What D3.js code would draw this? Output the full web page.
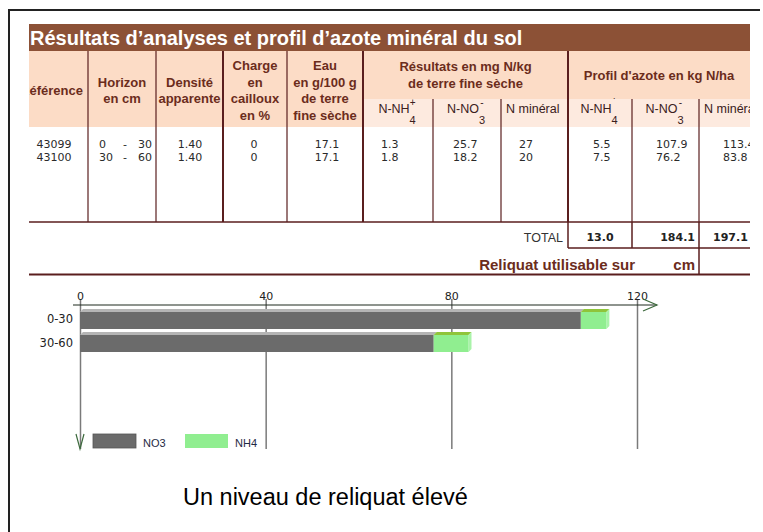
<!DOCTYPE html>
<html>
<head>
<meta charset="utf-8">
<script src="https://cdn.jsdelivr.net/npm/d3@7"></script>
<style>
  body { margin: 0; background: #fff; }
  svg { display: block; }
</style>
</head>
<body>
<div id="chart"></div>
<script>
const references = ["43099", "43100"];
const horizonStart = ["0", "30"];
const horizonEnd = ["30", "60"];
const densite = ["1.40", "1.40"];
const charge = ["0", "0"];
const eau = ["17.1", "17.1"];
const nh4Mg = ["1.3", "1.8"];
const no3Mg = ["25.7", "18.2"];
const nMinMg = ["27", "20"];
const nh4Kg = [5.5, 7.5];
const no3Kg = [107.9, 76.2];
const nMinKg = [113.4, 83.8];
const totals = ["13.0", "184.1", "197.1"];

const horizons = ["0-30", "30-60"];
const xTicks = [0, 40, 80, 120];
const legendLabels = ["NO3", "NH4"];

const width = 763, height = 532;
const brown = "#8c5136", pink = "#fcdcc6", lightPink = "#fdeadf";
const ink = "#5a1e1e", headText = "#6b2c1c";
const sans = "'Liberation Sans', Arial, sans-serif";
const mono = "'DejaVu Sans', Verdana, sans-serif";

const svg = d3.select("#chart").append("svg")
    .attr("width", width)
    .attr("height", height);

// cadre
svg.append("path")
    .attr("d", "M9,532 V10 H760")
    .attr("fill", "none")
    .attr("stroke", "#222")
    .attr("stroke-width", 2);

// --- 1. tableau ---
svg.append("clipPath").attr("id", "tab")
    .append("rect").attr("x", 29).attr("y", 0).attr("width", 721).attr("height", 300);
const tab = svg.append("g").attr("clip-path", "url(#tab)");

// bandeau titre
tab.append("rect").attr("x", 29).attr("y", 24).attr("width", 721).attr("height", 27).attr("fill", brown);
tab.append("text")
    .attr("x", 30).attr("y", 45)
    .attr("fill", "#fff")
    .style("font", `bold 20px ${sans}`)
    .text("Résultats d’analyses et profil d’azote minéral du sol");

// en-tête
const edges = [15, 88, 156, 223, 287, 363, 433, 501, 568, 632, 699, 780];
tab.append("rect").attr("x", 29).attr("y", 51).attr("width", 721).attr("height", 76).attr("fill", pink);
tab.append("rect").attr("x", 363).attr("y", 99).attr("width", 387).attr("height", 28).attr("fill", lightPink);

const headers = [
    ["Référence"],
    ["Horizon", "en cm"],
    ["Densité", "apparente"],
    ["Charge", "en", "cailloux", "en %"],
    ["Eau", "en g/100 g", "de terre", "fine sèche"]
];
headers.forEach((lines, i) => {
    const cx = (edges[i] + edges[i + 1]) / 2;
    const y0 = 95 - (lines.length - 1) * 16.5 / 2;
    tab.append("text")
        .attr("text-anchor", "middle")
        .attr("fill", headText)
        .style("font", `bold 13px ${sans}`)
        .selectAll("tspan").data(lines).join("tspan")
        .attr("x", cx)
        .attr("y", (d, j) => y0 + j * 16.5)
        .text(d => d);
});

const groups = [
    { lines: ["Résultats en mg N/kg", "de terre fine sèche"], x0: 363, x1: 568 },
    { lines: ["Profil d'azote en kg N/ha"], x0: 568, x1: 750 }
];
groups.forEach(g => {
    const y0 = 79.5 - (g.lines.length - 1) * 17 / 2;
    tab.append("text")
        .attr("text-anchor", "middle")
        .attr("fill", headText)
        .style("font", `bold 13px ${sans}`)
        .selectAll("tspan").data(g.lines).join("tspan")
        .attr("x", (g.x0 + g.x1) / 2)
        .attr("y", (d, j) => y0 + j * 17)
        .text(d => d);
});

// sous-colonnes N-NH4, N-NO3, N minéral
const subHeads = [
    { base: "N-NH", sub: "4", sup: "+" },
    { base: "N-NO", sub: "3", sup: "-" },
    { base: "N minéral" },
    { base: "N-NH", sub: "4", sup: "˙" },
    { base: "N-NO", sub: "3", sup: "-" },
    { base: "N minéral" }
];
subHeads.forEach((s, i) => {
    const x0 = edges[i + 5], x1 = edges[i + 6];
    const t = tab.append("text")
        .attr("x", s.sub ? (x0 + x1) / 2 - 4 : x0 + 5)
        .attr("y", 113)
        .attr("text-anchor", s.sub ? "middle" : "start")
        .attr("fill", "#3a2020")
        .style("font", `12.5px ${sans}`);
    t.append("tspan").text(s.base);
    if (s.sub) {
        const w = t.node().getComputedTextLength();
        const cx = +t.attr("x") + w / 2 + 3;
        tab.append("text").attr("x", cx).attr("y", 106).attr("text-anchor", "middle")
            .attr("fill", "#3a2020").style("font", `10px ${sans}`).text(s.sup);
        tab.append("text").attr("x", cx).attr("y", 124).attr("text-anchor", "middle")
            .attr("fill", "#3a2020").style("font", `11px ${sans}`).text(s.sub);
    }
});

// lignes de données
const rowY = [148, 161];
const centered = [
    { vals: references, x: 54 },
    { vals: densite, x: 190 },
    { vals: charge, x: 254 },
    { vals: eau, x: 327 }
];
const lefts = [
    { vals: nh4Mg, x: 381 },
    { vals: no3Mg, x: 453 },
    { vals: nMinMg, x: 519 },
    { vals: nh4Kg.map(d => d.toFixed(1)), x: 593 },
    { vals: no3Kg.map(d => d.toFixed(1)), x: 656 },
    { vals: nMinKg.map(d => d.toFixed(1)), x: 723 }
];
const cell = (txt, x, y, anchor) => tab.append("text")
    .attr("x", x).attr("y", y)
    .attr("text-anchor", anchor)
    .attr("fill", "#2a2a2a")
    .style("font", `11px ${mono}`)
    .text(txt);

rowY.forEach((y, r) => {
    centered.forEach(c => cell(c.vals[r], c.x, y, "middle"));
    lefts.forEach(c => cell(c.vals[r], c.x, y, "start"));
    cell(horizonStart[r], 99, y, "start");
    cell("-", 125, y, "middle");
    cell(horizonEnd[r], 152, y, "end");
});

// traits verticaux
const thick = [223, 363, 568];
edges.slice(1, 11).forEach(x => {
    const sub = [433, 501, 632, 699].includes(x);
    tab.append("line")
        .attr("x1", x).attr("x2", x)
        .attr("y1", sub ? 99 : 51).attr("y2", 222)
        .attr("stroke", ink)
        .attr("stroke-width", thick.includes(x) ? 2 : 1.2);
});
tab.append("line").attr("x1", 29).attr("x2", 750).attr("y1", 222).attr("y2", 222)
    .attr("stroke", ink).attr("stroke-width", 1.5);

// ligne TOTAL
tab.append("text").attr("x", 563).attr("y", 242).attr("text-anchor", "end")
    .attr("fill", "#333").style("font", `12.5px ${sans}`).text("TOTAL");
[568, 632, 699].forEach(x => tab.append("line")
    .attr("x1", x).attr("x2", x).attr("y1", 222).attr("y2", 248)
    .attr("stroke", ink).attr("stroke-width", 1.5));
tab.append("line").attr("x1", 568).attr("x2", 750).attr("y1", 248).attr("y2", 248)
    .attr("stroke", ink).attr("stroke-width", 1.5);
const totalX = [{ x: 600, a: "middle" }, { x: 695, a: "end" }, { x: 713, a: "start" }];
totals.forEach((t, i) => tab.append("text")
    .attr("x", totalX[i].x).attr("y", 241)
    .attr("text-anchor", totalX[i].a)
    .attr("fill", "#222")
    .style("font", `bold 11px ${mono}`)
    .text(t));

// ligne Reliquat
tab.append("text").attr("x", 635).attr("y", 270).attr("text-anchor", "end")
    .attr("fill", headText).style("font", `bold 15px ${sans}`).text("Reliquat utilisable sur");
tab.append("text").attr("x", 695).attr("y", 270).attr("text-anchor", "end")
    .attr("fill", headText).style("font", `bold 15px ${sans}`).text("cm");
tab.append("line").attr("x1", 699).attr("x2", 699).attr("y1", 248).attr("y2", 274)
    .attr("stroke", ink).attr("stroke-width", 1.5);
tab.append("line").attr("x1", 29).attr("x2", 750).attr("y1", 274.5).attr("y2", 274.5)
    .attr("stroke", ink).attr("stroke-width", 2);

// --- 2. graphique en barres ---
const x = d3.scaleLinear().domain([0, 120]).range([80, 637]);
const y = d3.scaleBand().domain(horizons).range([310, 352]).paddingInner(0.174).paddingOuter(0);
const axisY = 305, bottomY = 449;

// grille + graduations
const ax = svg.append("g")
    .attr("transform", `translate(0,${axisY})`)
    .call(d3.axisTop(x).tickValues(xTicks).tickSize(-(bottomY - axisY)).tickPadding(5));
ax.select(".domain").remove();
ax.selectAll(".tick line")
    .attr("stroke", "#7a7a7a")
    .attr("stroke-width", 1.5)
    .attr("y1", -6);
ax.selectAll(".tick text")
    .attr("fill", "#222")
    .style("font", `11px ${mono}`);

// axe horizontal avec flèche
svg.append("line").attr("x1", 73).attr("x2", 657).attr("y1", axisY).attr("y2", axisY)
    .attr("stroke", "#1e2a1e").attr("stroke-width", 1.2);
svg.append("path").attr("d", `M643,299 L657,${axisY} L643,311`)
    .attr("fill", "none").attr("stroke", "#3d6a3d").attr("stroke-width", 1.2);
svg.append("path").attr("d", `M76,434 L80,${bottomY} L84,434`)
    .attr("fill", "none").attr("stroke", "#3d6a3d").attr("stroke-width", 1.2);

// barres empilées NO3 + NH4 (effet 3D)
const depth = 3;
const bars = svg.append("g");
horizons.forEach((h, i) => {
    const y0 = y(h) + depth - 1, y1 = y(h) + y.bandwidth();
    const segs = [
        { a: 0, b: no3Kg[i], front: "#6b6b6b", top: "#b5b5b5", side: "#5a5a5a" },
        { a: no3Kg[i], b: no3Kg[i] + nh4Kg[i], front: "#90ee90", top: "#8fc43a", side: "#a9f3a9" }
    ];
    segs.forEach((s, k) => {
        const xa = x(s.a), xb = x(s.b);
        bars.append("polygon")
            .attr("points", `${xa},${y0} ${xa + depth},${y0 - depth} ${xb + depth},${y0 - depth} ${xb},${y0}`)
            .attr("fill", s.top);
        if (k === segs.length - 1) {
            bars.append("polygon")
                .attr("points", `${xb},${y0} ${xb + depth},${y0 - depth} ${xb + depth},${y1 - depth} ${xb},${y1}`)
                .attr("fill", s.side);
        }
        bars.append("rect")
            .attr("x", xa).attr("y", y0)
            .attr("width", xb - xa).attr("height", y1 - y0)
            .attr("fill", s.front);
    });
    svg.append("text")
        .attr("x", 73).attr("y", y(h) + y.bandwidth() / 2 + 4)
        .attr("text-anchor", "end")
        .attr("fill", "#222")
        .style("font", `11.5px ${mono}`)
        .text(h);
});

// légende
const legendColors = ["#6b6b6b", "#90ee90"];
const legend = svg.append("g").attr("transform", "translate(93,434)");
legendLabels.forEach((lab, i) => {
    legend.append("rect")
        .attr("x", i * 92).attr("y", 0)
        .attr("width", 43).attr("height", 14)
        .attr("fill", legendColors[i])
        .attr("stroke", i === 0 ? "#555" : "none")
        .attr("stroke-width", 0.8);
    legend.append("text")
        .attr("x", i * 92 + 50).attr("y", 13)
        .attr("fill", "#1f2a44")
        .style("font", `11px ${sans}`)
        .text(lab);
});

// commentaire
svg.append("text")
    .attr("x", 183).attr("y", 505)
    .attr("fill", "#000")
    .style("font", `23.5px ${sans}`)
    .text("Un niveau de reliquat élevé");
</script>
</body>
</html>
